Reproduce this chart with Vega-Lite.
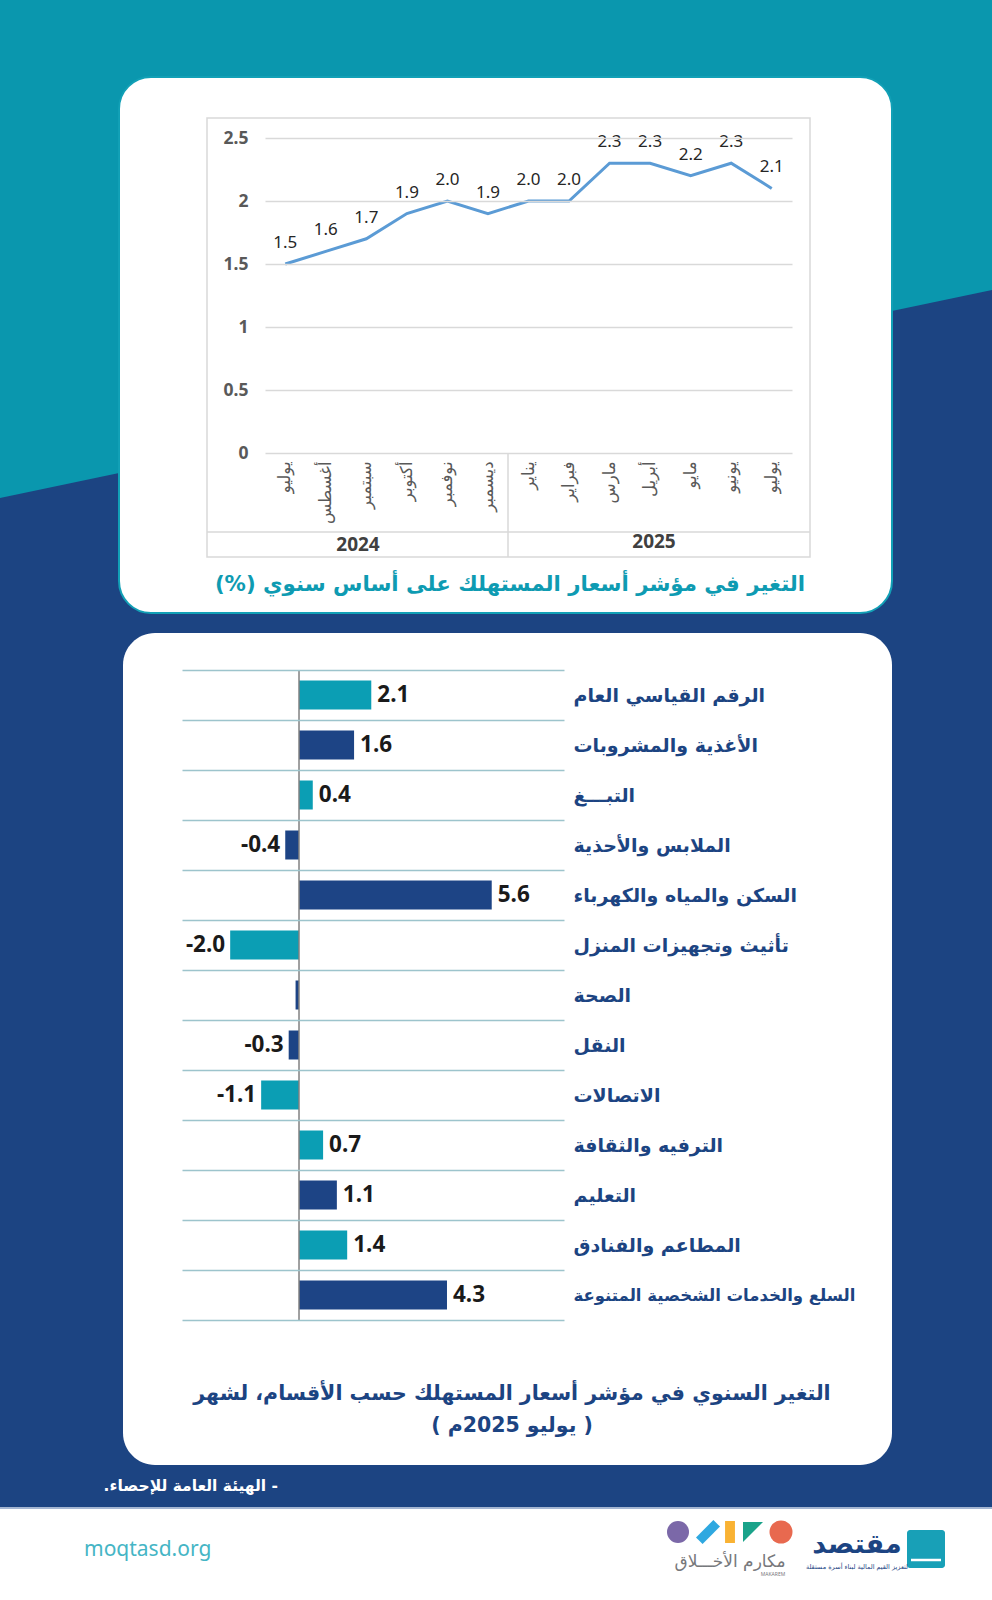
{
  "$schema": "https://vega.github.io/schema/vega-lite/v6.json",
  "width": 992,
  "height": 1600,
  "padding": 0,
  "autosize": {"type": "none"},
  "background": "#1C4482",
  "config": {
    "view": {"stroke": null},
    "locale": {"number": {"decimal": ".", "thousands": ",", "grouping": [3], "currency": ["$", ""], "minus": "-"}}
  },
  "resolve": {
    "scale": {"x": "independent", "y": "independent"},
    "axis": {"x": "independent", "y": "independent"}
  },
  "layer": [
    {
      "data": {"values": [{}]},
      "layer": [
        {
          "mark": {"type": "point", "shape": "M-0.62,-1L0.62,-1L0.62,-0.6375L-0.62,-0.3775Z", "size": 2560000, "filled": true, "color": "#0A97AE", "opacity": 1, "strokeWidth": 0},
          "encoding": {
            "x": {"datum": 496, "type": "quantitative", "scale": {"domain": [0, 992], "range": [0, 992], "nice": false, "zero": false}, "axis": null},
            "y": {"datum": 800, "type": "quantitative", "scale": {"domain": [0, 1600], "range": [0, 1600], "nice": false, "zero": false}, "axis": null}
          }
        },
        {
          "mark": {"type": "rect", "color": "#FFFFFF", "stroke": "#12A0B6", "strokeWidth": 2, "cornerRadius": 32},
          "encoding": {
            "x": {"datum": 119, "type": "quantitative", "axis": null}, "x2": {"datum": 892},
            "y": {"datum": 77, "type": "quantitative", "axis": null}, "y2": {"datum": 613}
          }
        },
        {
          "mark": {"type": "rect", "color": "#FFFFFF", "cornerRadius": 32},
          "encoding": {
            "x": {"datum": 123, "type": "quantitative", "axis": null}, "x2": {"datum": 892},
            "y": {"datum": 633, "type": "quantitative", "axis": null}, "y2": {"datum": 1465}
          }
        },
        {
          "mark": {"type": "rect", "color": "#FFFFFF"},
          "encoding": {
            "x": {"datum": 0, "type": "quantitative", "axis": null}, "x2": {"datum": 992},
            "y": {"datum": 1508, "type": "quantitative", "axis": null}, "y2": {"datum": 1600}
          }
        },
        {
          "mark": {"type": "rule", "color": "#A4B6D2", "strokeWidth": 2},
          "encoding": {
            "x": {"datum": 0, "type": "quantitative", "axis": null}, "x2": {"datum": 992},
            "y": {"datum": 1508, "type": "quantitative", "axis": null}
          }
        },
        {
          "mark": {"type": "rect", "filled": false, "stroke": "#D9D9D9", "strokeWidth": 1.5},
          "encoding": {
            "x": {"datum": 207, "type": "quantitative", "axis": null}, "x2": {"datum": 810},
            "y": {"datum": 118, "type": "quantitative", "axis": null}, "y2": {"datum": 557}
          }
        },
        {
          "mark": {"type": "rule", "color": "#D9D9D9", "strokeWidth": 1.5},
          "encoding": {
            "x": {"datum": 207, "type": "quantitative", "axis": null}, "x2": {"datum": 810},
            "y": {"datum": 532, "type": "quantitative", "axis": null}
          }
        },
        {
          "mark": {"type": "rule", "color": "#D9D9D9", "strokeWidth": 1.5},
          "encoding": {
            "x": {"datum": 508, "type": "quantitative", "axis": null},
            "y": {"datum": 453, "type": "quantitative", "axis": null}, "y2": {"datum": 557}
          }
        },
        {
          "mark": {"type": "text", "text": "2024", "font": "Noto Sans", "fontWeight": "bold", "fontSize": 19, "color": "#404040", "align": "center", "baseline": "middle"},
          "encoding": {"x": {"datum": 358, "type": "quantitative", "axis": null}, "y": {"datum": 545, "type": "quantitative", "axis": null}}
        },
        {
          "mark": {"type": "text", "text": "2025", "font": "Noto Sans", "fontWeight": "bold", "fontSize": 19, "color": "#404040", "align": "center", "baseline": "middle"},
          "encoding": {"x": {"datum": 654, "type": "quantitative", "axis": null}, "y": {"datum": 542, "type": "quantitative", "axis": null}}
        },
        {
          "mark": {"type": "text", "text": "\u202Bالتغير في مؤشر أسعار المستهلك على أساس سنوي (%)\u202C", "font": "DejaVu Sans", "fontWeight": "bold", "fontSize": 21.3, "color": "#0E9BB2", "align": "center", "baseline": "middle"},
          "encoding": {"x": {"datum": 510, "type": "quantitative", "axis": null}, "y": {"datum": 585, "type": "quantitative", "axis": null}}
        },
        {
          "mark": {"type": "text", "text": "\u202Bالتغير السنوي في مؤشر أسعار المستهلك حسب الأقسام، لشهر\u202C", "font": "DejaVu Sans", "fontWeight": "bold", "fontSize": 20.5, "color": "#1C4482", "align": "center", "baseline": "middle"},
          "encoding": {"x": {"datum": 512, "type": "quantitative", "axis": null}, "y": {"datum": 1394, "type": "quantitative", "axis": null}}
        },
        {
          "mark": {"type": "text", "text": "\u202B( يوليو 2025م )\u202C", "font": "DejaVu Sans", "fontWeight": "bold", "fontSize": 20.5, "color": "#1C4482", "align": "center", "baseline": "middle"},
          "encoding": {"x": {"datum": 512, "type": "quantitative", "axis": null}, "y": {"datum": 1426, "type": "quantitative", "axis": null}}
        },
        {
          "mark": {"type": "text", "text": "\u202B- الهيئة العامة للإحصاء.\u202C", "font": "DejaVu Sans", "fontWeight": "bold", "fontSize": 15.5, "color": "#FFFFFF", "align": "right", "baseline": "middle"},
          "encoding": {"x": {"datum": 278, "type": "quantitative", "axis": null}, "y": {"datum": 1486, "type": "quantitative", "axis": null}}
        },
        {
          "mark": {"type": "text", "text": "moqtasd.org", "font": "Noto Sans", "fontSize": 21, "color": "#45B5C5", "align": "left", "baseline": "middle"},
          "encoding": {"x": {"datum": 84, "type": "quantitative", "axis": null}, "y": {"datum": 1550, "type": "quantitative", "axis": null}}
        },
        {
          "mark": {"type": "point", "shape": "circle", "size": 484, "filled": true, "opacity": 1, "color": "#7B68A8", "strokeWidth": 0},
          "encoding": {"x": {"datum": 678, "type": "quantitative", "axis": null}, "y": {"datum": 1532, "type": "quantitative", "axis": null}}
        },
        {
          "mark": {"type": "point", "shape": "M0.45,-1L1,-0.45L-0.45,1L-1,0.45Z", "size": 576, "filled": true, "opacity": 1, "color": "#2FA8E0", "strokeWidth": 0},
          "encoding": {"x": {"datum": 708, "type": "quantitative", "axis": null}, "y": {"datum": 1532, "type": "quantitative", "axis": null}}
        },
        {
          "mark": {"type": "point", "shape": "M-0.45,-1L0.45,-1L0.45,1L-0.45,1Z", "size": 484, "filled": true, "opacity": 1, "color": "#F9B233", "strokeWidth": 0},
          "encoding": {"x": {"datum": 730, "type": "quantitative", "axis": null}, "y": {"datum": 1532, "type": "quantitative", "axis": null}}
        },
        {
          "mark": {"type": "point", "shape": "M-1,-1L1,-1L-1,1Z", "size": 400, "filled": true, "opacity": 1, "color": "#1AA38A", "strokeWidth": 0},
          "encoding": {"x": {"datum": 753, "type": "quantitative", "axis": null}, "y": {"datum": 1532, "type": "quantitative", "axis": null}}
        },
        {
          "mark": {"type": "point", "shape": "circle", "size": 529, "filled": true, "opacity": 1, "color": "#E8694F", "strokeWidth": 0},
          "encoding": {"x": {"datum": 781, "type": "quantitative", "axis": null}, "y": {"datum": 1532, "type": "quantitative", "axis": null}}
        },
        {
          "mark": {"type": "text", "text": "مكارم الأخـــلاق", "font": "DejaVu Sans", "fontSize": 17, "color": "#77787B", "align": "center", "baseline": "middle"},
          "encoding": {"x": {"datum": 730, "type": "quantitative", "axis": null}, "y": {"datum": 1562, "type": "quantitative", "axis": null}}
        },
        {
          "mark": {"type": "text", "text": "MAKAREM", "font": "Noto Sans", "fontSize": 5, "color": "#77787B", "align": "center", "baseline": "middle"},
          "encoding": {"x": {"datum": 773, "type": "quantitative", "axis": null}, "y": {"datum": 1574, "type": "quantitative", "axis": null}}
        },
        {
          "mark": {"type": "rect", "color": "#18A0B7", "cornerRadius": 3},
          "encoding": {
            "x": {"datum": 907, "type": "quantitative", "axis": null}, "x2": {"datum": 945},
            "y": {"datum": 1530, "type": "quantitative", "axis": null}, "y2": {"datum": 1568}
          }
        },
        {
          "mark": {"type": "rule", "color": "#FFFFFF", "strokeWidth": 2.5},
          "encoding": {
            "x": {"datum": 911, "type": "quantitative", "axis": null}, "x2": {"datum": 941},
            "y": {"datum": 1560, "type": "quantitative", "axis": null}
          }
        },
        {
          "mark": {"type": "text", "text": "مقتصد", "font": "DejaVu Sans", "fontWeight": "bold", "fontSize": 27, "color": "#1C4482", "align": "center", "baseline": "middle"},
          "encoding": {"x": {"datum": 857, "type": "quantitative", "axis": null}, "y": {"datum": 1545, "type": "quantitative", "axis": null}}
        },
        {
          "mark": {"type": "text", "text": "لتعزيز القيم المالية لبناء أسرة مستقلة", "font": "DejaVu Sans", "fontSize": 6.5, "color": "#1C4482", "align": "center", "baseline": "middle"},
          "encoding": {"x": {"datum": 857, "type": "quantitative", "axis": null}, "y": {"datum": 1567, "type": "quantitative", "axis": null}}
        }
      ]
    },
    {
      "data": {
        "values": [
          {"period": "يوليو 2024", "v": 1.5},
          {"period": "أغسطس 2024", "v": 1.6},
          {"period": "سبتمبر 2024", "v": 1.7},
          {"period": "أكتوبر 2024", "v": 1.9},
          {"period": "نوفمبر 2024", "v": 2.0},
          {"period": "ديسمبر 2024", "v": 1.9},
          {"period": "يناير 2025", "v": 2.0},
          {"period": "فبراير 2025", "v": 2.0},
          {"period": "مارس 2025", "v": 2.3},
          {"period": "أبريل 2025", "v": 2.3},
          {"period": "مايو 2025", "v": 2.2},
          {"period": "يونيو 2025", "v": 2.3},
          {"period": "يوليو 2025", "v": 2.1}
        ]
      },
      "encoding": {
        "x": {
          "field": "period", "type": "nominal", "sort": null,
          "scale": {"type": "band", "range": [265, 792], "paddingInner": 0, "paddingOuter": 0},
          "axis": {"orient": "bottom", "offset": -1147, "zindex": 1, "title": null, "labelAngle": 270, "labelAlign": "right", "labelBaseline": "middle", "labelPadding": 8, "ticks": false, "domain": false, "grid": false, "labelFont": "DejaVu Sans", "labelFontSize": 16.5, "labelColor": "#595959", "labelLimit": 200, "labelExpr": "split(datum.label, ' ')[0]"}
        },
        "y": {
          "field": "v", "type": "quantitative",
          "scale": {"domain": [0, 2.5], "range": [453, 138], "nice": false, "zero": true},
          "axis": {"orient": "left", "offset": -265, "zindex": 1, "title": null, "values": [0, 0.5, 1, 1.5, 2, 2.5], "format": "~g", "ticks": false, "domain": false, "grid": true, "gridColor": "#D9D9D9", "gridWidth": 1.5, "labelPadding": 17, "labelFont": "Noto Sans", "labelFontSize": 17.5, "labelFontWeight": "bold", "labelColor": "#595959"}
        }
      },
      "layer": [
        {"mark": {"type": "line", "color": "#5B9BD5", "strokeWidth": 3}},
        {
          "mark": {"type": "text", "dy": -21, "font": "Noto Sans", "fontSize": 17, "color": "#262626", "align": "center", "baseline": "middle"},
          "encoding": {"text": {"field": "v", "type": "quantitative", "format": ".1f"}}
        }
      ]
    },
    {
      "data": {
        "values": [
          {"cat": "الرقم القياسي العام", "v": 2.1},
          {"cat": "الأغذية والمشروبات", "v": 1.6},
          {"cat": "التبـــغ", "v": 0.4},
          {"cat": "الملابس والأحذية", "v": -0.4},
          {"cat": "السكن والمياه والكهرباء", "v": 5.6},
          {"cat": "تأثيث وتجهيزات المنزل", "v": -2.0},
          {"cat": "الصحة", "v": -0.1},
          {"cat": "النقل", "v": -0.3},
          {"cat": "الاتصالات", "v": -1.1},
          {"cat": "الترفيه والثقافة", "v": 0.7},
          {"cat": "التعليم", "v": 1.1},
          {"cat": "المطاعم والفنادق", "v": 1.4},
          {"cat": "السلع والخدمات الشخصية المتنوعة", "v": 4.3}
        ]
      },
      "encoding": {
        "y": {
          "field": "cat", "type": "nominal", "sort": null,
          "scale": {"type": "band", "range": [670, 1320], "paddingInner": 0, "paddingOuter": 0},
          "axis": {
            "orient": "left", "offset": -573, "zindex": 1, "title": null, "ticks": false, "domain": false, "grid": true, "tickBand": "extent",
            "gridColor": "#9DC4CC", "gridWidth": 1.5, "labelPadding": 0, "labelAlign": "left", "labelBaseline": "middle",
            "labelFont": "DejaVu Sans", "labelFontWeight": "bold", "labelColor": "#1C4482", "labelLimit": 400,
            "labelFontSize": {"condition": {"test": "datum.value == 'السلع والخدمات الشخصية المتنوعة'", "value": 16.5}, "value": 19}
          }
        }
      },
      "layer": [
        {
          "mark": {"type": "bar", "height": {"band": 0.58}},
          "encoding": {
            "x": {"field": "v", "type": "quantitative", "scale": {"domain": [-3.4, 7.7], "range": [182, 564], "nice": false, "zero": false}, "axis": null},
            "color": {
              "condition": {"test": "indexof(['الرقم القياسي العام','التبـــغ','تأثيث وتجهيزات المنزل','الاتصالات','الترفيه والثقافة','المطاعم والفنادق'], datum.cat) >= 0", "value": "#0B9EB4"},
              "value": "#1D4485"
            }
          }
        },
        {
          "mark": {"type": "tick", "orient": "vertical", "size": 50, "thickness": 1.5, "color": "#808080", "opacity": 1},
          "encoding": {"x": {"datum": 0, "type": "quantitative"}}
        },
        {
          "transform": [{"filter": "datum.v > 0"}],
          "mark": {"type": "text", "align": "left", "dx": 6, "baseline": "middle", "font": "Noto Sans", "fontWeight": "bold", "fontSize": 22.5, "color": "#1A1A1A"},
          "encoding": {"x": {"field": "v", "type": "quantitative"}, "text": {"field": "v", "type": "quantitative", "format": ".1f"}}
        },
        {
          "transform": [{"filter": "datum.v <= -0.2"}],
          "mark": {"type": "text", "align": "right", "dx": -5, "baseline": "middle", "font": "Noto Sans", "fontWeight": "bold", "fontSize": 22.5, "color": "#1A1A1A"},
          "encoding": {"x": {"field": "v", "type": "quantitative"}, "text": {"field": "v", "type": "quantitative", "format": ".1f"}}
        }
      ]
    }
  ]
}
